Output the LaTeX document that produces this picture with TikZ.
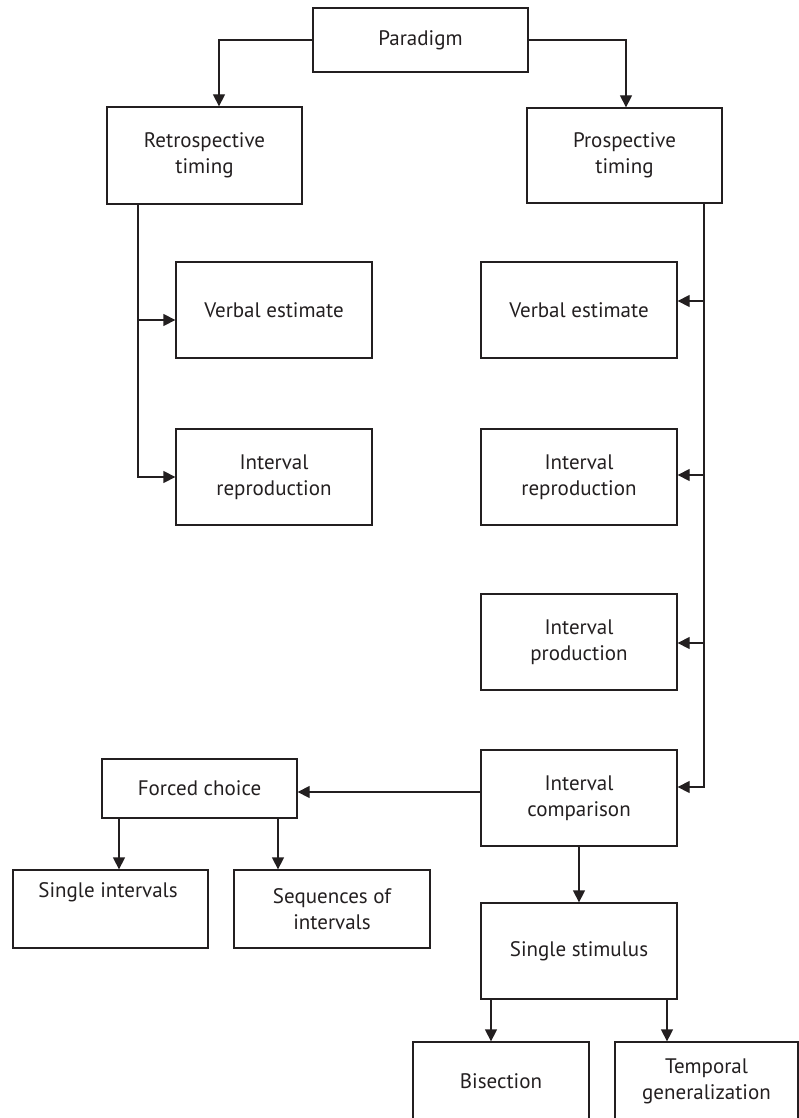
\documentclass[tikz,border=0pt]{standalone}
\usepackage{fontspec}
\setmainfont{PT Sans}
\usetikzlibrary{arrows.meta}
\definecolor{ink}{RGB}{35,31,32}
\begin{document}
\begin{tikzpicture}[x=1pt,y=-1pt,
  box/.style={draw=ink, line width=1.3pt, inner sep=0pt, align=center, text=ink,
    font=\fontsize{21}{26}\selectfont, minimum width=196pt, minimum height=96pt},
  lbl/.style={text=ink, align=center, font=\fontsize{21}{26}\selectfont, inner sep=0pt},
  conn/.style={draw=ink, line width=1.3pt},
  arr/.style={conn, -{Triangle[length=12pt,width=12pt]}}]
\useasboundingbox (0,0) rectangle (799,1118);
\clip (0,0) rectangle (799,1118);

% boxes
\node[box, minimum width=215pt, minimum height=64pt] (par) at (420.5,40) {Paradigm};
\node[box, minimum width=195pt, minimum height=97pt] (ret) at (204.5,155.5) {Retrospective\\timing};
\node[box, minimum width=195pt, minimum height=95pt] (pro) at (624.5,155.5) {Prospective\\timing};
\node[box] (ve1) at (274,310) {Verbal estimate};
\node[box] (ve2) at (579,310) {Verbal estimate};
\node[box] (ir1) at (274,477) {Interval\\reproduction};
\node[box] (ir2) at (579,477) {Interval\\reproduction};
\node[box] (ip) at (579,642) {Interval\\production};
\node[box] (cmp) at (579,798) {Interval\\comparison};
\node[box, minimum width=195pt, minimum height=59pt] (fc) at (199.5,788.5) {Forced choice};
\node[box, minimum width=195pt, minimum height=78pt] (si) at (110.5,909) {};
\node[lbl] (sit) at (108,892) {Single intervals};
\node[box, minimum height=78pt] (seq) at (332,909) {Sequences of\\intervals};
\node[box] (ss) at (579,951) {Single stimulus};
\node[box, minimum width=176pt, minimum height=78pt] (bis) at (501,1081) {Bisection};
\node[box, minimum width=183pt, minimum height=78pt] (tg) at (706.5,1081) {Temporal\\generalization};

% trunk coordinates
\coordinate (rt) at (138,204);
\coordinate (pt) at (704,203);

% connectors
\draw[arr] (par.west) -| ([xshift=14.5pt]ret.north);
\draw[arr] (par.east) -| ([xshift=1.5pt]pro.north);

\draw[arr] (ret.south -| rt) |- (ir1.west);
\draw[arr] (rt |- 0,320) -- (ve1.west |- 0,320);

\draw[arr] (pro.south -| pt) |- ([yshift=11pt]cmp.east);
\draw[arr] (pt |- 0,301) -- (ve2.east |- 0,301);
\draw[arr] (pt |- 0,475) -- (ir2.east |- 0,475);
\draw[arr] (pt |- 0,643) -- (ip.east |- 0,643);

\draw[arr] (cmp.west |- 0,792) -- (fc.east |- 0,792);
\draw[arr] (fc.south -| 119,0) -- (si.north -| 119,0);
\draw[arr] (fc.south -| 278,0) -- (seq.north -| 278,0);

\draw[arr] (cmp.south) -- (ss.north);
\draw[arr] (ss.south -| 491,0) -- (bis.north -| 491,0);
\draw[arr] (ss.south -| 667,0) -- (tg.north -| 667,0);
\end{tikzpicture}
\end{document}
